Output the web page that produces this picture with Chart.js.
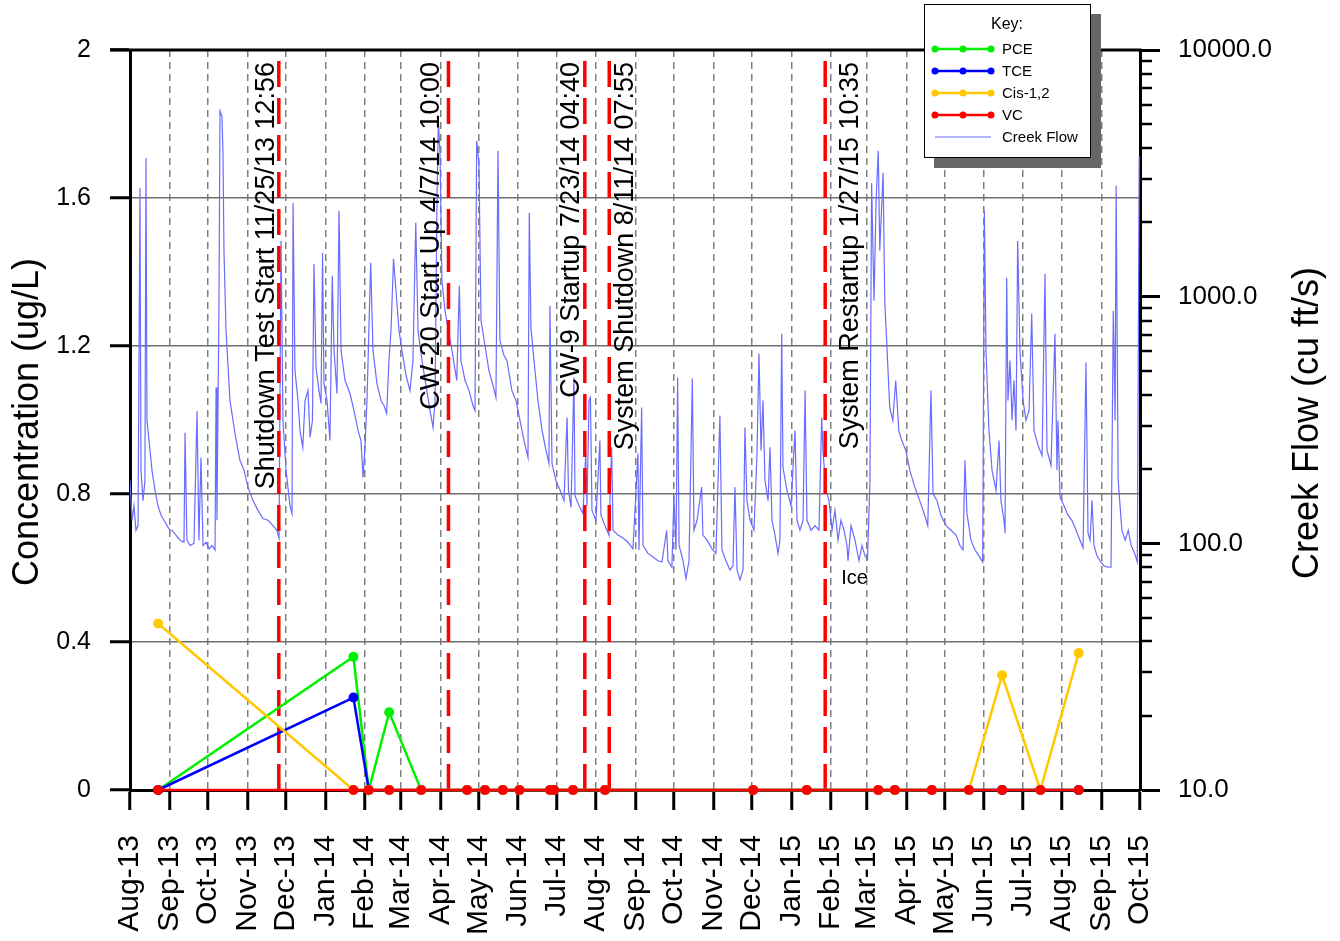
<!DOCTYPE html>
<html>
<head>
<meta charset="utf-8">
<title>Concentration and Creek Flow</title>
<script src="https://cdn.jsdelivr.net/npm/chart.js@4.4.1/dist/chart.umd.min.js"></script>
<style>
  html, body { margin: 0; padding: 0; background: #fff; }
  #wrap { width: 1340px; height: 941px; }
</style>
</head>
<body>
<div id="wrap"><canvas id="flowChart" width="1340" height="941"></canvas></div>
<script>
const FONT = "'Liberation Sans', Arial, Helvetica, sans-serif";

// x axis: one tick per month, Aug-13 .. Oct-15
const monthLabels = ['Aug-13', 'Sep-13', 'Oct-13', 'Nov-13', 'Dec-13', 'Jan-14', 'Feb-14', 'Mar-14', 'Apr-14',
    'May-14', 'Jun-14', 'Jul-14', 'Aug-14', 'Sep-14', 'Oct-14', 'Nov-14', 'Dec-14', 'Jan-15', 'Feb-15',
    'Mar-15', 'Apr-15', 'May-15', 'Jun-15', 'Jul-15', 'Aug-15', 'Sep-15', 'Oct-15'];

const concTicks = [0, 0.4, 0.8, 1.2, 1.6, 2];
const concTickLabels = ['0', '0.4', '0.8', '1.2', '1.6', '2'];
const flowTicks = [10, 100, 1000, 10000];
const flowTickLabels = ['10.0', '100.0', '1000.0', '10000.0'];

// sampling events (ug/L)
const sampleDates = ['2013-08-23', '2014-01-23', '2014-02-04', '2014-02-20', '2014-03-17', '2014-04-22',
    '2014-05-06', '2014-05-20', '2014-06-02', '2014-06-26', '2014-06-29', '2014-07-14', '2014-08-08',
    '2014-12-02', '2015-01-13', '2015-03-10', '2015-03-23', '2015-04-21', '2015-05-20', '2015-06-15',
    '2015-07-15', '2015-08-14'];
const pce = [0, 0.36, 0, 0.21, 0, 0, 0, 0, 0, 0, 0, 0, 0, 0, 0, 0, 0, 0, 0, 0, 0, 0];
const tce = [0, 0.25, 0, 0, 0, 0, 0, 0, 0, 0, 0, 0, 0, 0, 0, 0, 0, 0, 0, 0, 0, 0];
const cis12 = [0.45, 0, 0, 0, 0, 0, 0, 0, 0, 0, 0, 0, 0, 0, 0, 0, 0, 0, 0, 0.31, 0, 0.37];
const vc = [0, 0, 0, 0, 0, 0, 0, 0, 0, 0, 0, 0, 0, 0, 0, 0, 0, 0, 0, 0, 0, 0];

// system events
const eventDates = ['2013-11-25 12:56', '2014-04-07 10:00', '2014-07-23 04:40', '2014-08-11 07:55', '2015-01-27 10:35'];
const eventLabels = ['Shutdown Test Start 11/25/13 12:56', 'CW-20 Start Up 4/7/14 10:00', 'CW-9 Startup 7/23/14 04:40',
    'System Shutdown 8/11/14 07:55', 'System Restartup 1/27/15 10:35'];

// creek flow, days since 8/1/13 and cu ft/s
const flowDay = [0, 1.6, 3.1, 4.7, 6.3, 7.8, 8.6, 10.2, 11.7, 12.5, 13.3, 14.9, 17.2, 19.6, 21.9, 24.3, 26.6, 29, 31.3,
    32.9, 36, 39.2, 42.3, 43.1, 44.6, 47, 50.1, 52.5, 54, 55.6, 57.2, 59.5, 61.9, 64.2, 66.6, 67.4, 68.1, 69.7, 70.5,
    72, 72.8, 73.6, 75.2, 78.3, 82.2, 86.1, 89.3, 92.4, 96.3, 100.2, 104.1, 108.1, 112, 115.1, 116.7, 118.3, 119.8,
    122.2, 125.3, 126.9, 127.7, 129.2, 131.6, 133.1, 135.3, 137.1, 139.4, 141, 142.9, 144.1, 145.7, 148, 149.6, 150.8,
    151.9, 154.3, 156.6, 158.4, 159.8, 162.1, 163.7, 165.3, 168.4, 172.3, 175.4, 178.6, 180.9, 182.5, 184.1, 185.6,
    188.5, 190.3, 193.4, 196.6, 198.9, 201, 202.8, 204.4, 206.4, 208.3, 210.7, 213, 216.2, 219.3, 221.6, 223.8, 225.6,
    228.7, 231.8, 235, 237.3, 238.9, 240.4, 241.5, 242.8, 244.3, 246.7, 249, 252.2, 255.9, 257.9, 259.2, 262.4, 265.5,
    268.6, 270.2, 271.5, 273.3, 274.9, 278, 281.1, 284.3, 286.6, 288.2, 289.7, 292.9, 295.2, 299.1, 302.3, 305.4, 308.6,
    311.7, 312.7, 314, 316.4, 319.5, 322.7, 325.8, 328.1, 328.9, 330.5, 333.6, 336.8, 339.9, 342.3, 343.4, 345.4, 347.7,
    348.5, 351.7, 354.8, 356.9, 357.9, 359.5, 360.6, 361.8, 364.9, 368, 368.8, 372, 375.1, 377.2, 378.3, 382.2, 386.1,
    390, 393.9, 397.8, 398.6, 400.7, 401.8, 405.7, 409.6, 413.5, 416.6, 420.3, 421.3, 424.4, 426, 427.6, 428.9, 430,
    433.1, 435.4, 437.8, 440.4, 441.7, 444.1, 447.7, 448.7, 451.9, 455.8, 458.9, 462, 463.6, 466.7, 469.9, 472.2, 473.8,
    475.4, 477.7, 480.1, 481.6, 483.2, 485.6, 488.7, 491, 492.6, 494.2, 495.7, 497.3, 499.7, 501.2, 502.8, 505.1, 507.5,
    509, 510.4, 511.4, 514.5, 517.7, 520.8, 522.4, 524.7, 527.1, 528.7, 530.2, 533.4, 536.5, 539.6, 541.7, 542.7, 545.1,
    547.4, 549.8, 552.1, 554.5, 556.8, 559.2, 561.5, 562.3, 564.7, 567.8, 570.9, 573.3, 575.6, 577.6, 579.5, 580.8,
    582.7, 584.3, 586, 587.2, 589.8, 591.1, 592.7, 595, 597.4, 599.7, 602.1, 604.4, 607.6, 610.7, 614.6, 618.5, 622.4,
    624.8, 627.3, 628.9, 632, 635.1, 639.1, 643, 646.9, 650, 652.4, 653.9, 655.5, 658.6, 661.8, 664.9, 667.8, 669.1,
    670.4, 672.7, 675.1, 678.2, 680.6, 682.1, 684.5, 685.3, 686.6, 687.6, 689.2, 690.8, 692.3, 693.9, 695.2, 697, 699.4,
    701.7, 704.1, 706.2, 708, 711.2, 714.3, 716.6, 718.2, 721.3, 724.4, 726, 726.8, 728.4, 731.5, 734.6, 737.7, 740.9,
    744, 746.4, 748.7, 750.3, 751.9, 753.4, 755, 757.3, 759.7, 762.8, 766, 768.3, 770.1, 771.5, 772.3, 773.9, 776.8,
    779.4, 781.8, 784.1, 786.5, 788.9, 790.4];
const flowCfs = [180, 124, 142, 113, 118, 2760, 198, 149, 180, 3650, 315, 261, 198, 164, 142, 130, 124, 118, 113,
    113, 108, 103, 101, 281, 103, 98, 100, 343, 103, 223, 98, 101, 95, 98, 94, 428, 124, 963, 5660,
    5400, 3900, 1535, 728, 379, 279, 217, 198, 169, 149, 136, 126, 124, 118, 113, 105, 1685, 315,
    198, 142, 132, 2400, 501, 379, 287, 245, 379, 416, 269, 315, 1360, 516, 416, 369, 1507,
    444, 379, 261, 1216, 604, 405, 2229, 604, 457, 405, 345, 287, 261, 185, 249, 379,
    1373, 604, 444, 379, 362, 336, 551, 728, 1425, 1057, 728, 604, 479, 416, 551, 1993, 728,
    551, 437, 345, 295, 379, 2447, 5160, 3790, 1161, 877, 749, 604, 457, 1108, 551, 457, 416,
    362, 345, 4281, 3452, 799, 634, 501, 437, 390, 3900, 663, 577, 551, 416, 379, 315, 261,
    223, 2188, 749, 551, 379, 287, 238, 211, 919, 211, 180, 164, 149, 324, 164, 140, 470,
    156, 142, 132, 231, 142, 379, 390, 136, 124, 261, 130, 118, 108, 245, 113, 108, 105,
    101, 95, 231, 94, 355, 98, 91, 88, 85, 84, 113, 85, 80, 156, 94, 470, 98,
    85, 72, 85, 466, 113, 124, 169, 108, 103, 95, 91, 330, 94, 85, 78, 81, 169,
    78, 71, 78, 295, 149, 124, 113, 227, 588, 238, 379, 180, 149, 245, 124, 108, 91,
    103, 708, 203, 164, 142, 287, 124, 113, 124, 416, 124, 113, 118, 113, 324, 238, 164,
    149, 113, 136, 103, 124, 113, 98, 85, 118, 103, 85, 98, 89, 86, 180, 2890,
    963, 2447, 3900, 1535, 3180, 963, 645, 355, 315, 457, 287, 261, 238, 198, 169, 149, 130,
    118, 416, 159, 149, 130, 118, 113, 108, 98, 94, 217, 132, 103, 94, 89, 84, 2229,
    604, 287, 198, 164, 261, 149, 124, 110, 1194, 379, 551, 315, 457, 287, 1685, 604, 379,
    315, 345, 854, 287, 249, 227, 1239, 238, 207, 708, 198, 315, 154, 142, 130, 124, 113,
    103, 96, 541, 110, 103, 149, 98, 89, 85, 81, 80, 80, 877, 315, 2814, 180, 113,
    103, 113, 98, 92, 84, 3720];

const iceNote = {date: '2015-02-09', flow: 72, text: 'Ice'};

const PCE_COLOR = '#00f000';
const TCE_COLOR = '#0000ff';
const CIS_COLOR = '#ffc800';
const VC_COLOR = '#ff0000';
const FLOW_COLOR = '#6b6bff';
const EVENT_COLOR = '#ff0000';

// where each event label sits relative to its line (px)
const eventLabelShift = [-4.5, -9, -5.5, 23.5, 32.5];

const T0 = Date.UTC(2013, 7, 1);

function dayOf(s) {
    let parts = s.split(' ');
    let [y, m, d] = parts[0].split('-').map(Number);
    let [hh, mm] = (parts[1] || '00:00').split(':').map(Number);
    return (Date.UTC(y, m - 1, d, hh, mm) - T0) / 86400000;
}

const monthDays = monthLabels.map((_, i) => (Date.UTC(2013, 7 + i, 1) - T0) / 86400000);

function concSeries(label, values, color, order) {
    return {
        label: label,
        order: order,
        yAxisID: 'y',
        data: sampleDates.map((s, i) => ({x: dayOf(s), y: values[i]})),
        borderColor: color,
        backgroundColor: color,
        borderWidth: 2.5,
        pointRadius: 5,
        pointBorderWidth: 0,
        pointHoverRadius: 5,
        clip: false
    };
}

let eventSets = eventDates.map(s => ({
    label: 'event',
    order: 5,
    yAxisID: 'y',
    data: [{x: dayOf(s), y: 0}, {x: dayOf(s), y: 2}],
    borderColor: EVENT_COLOR,
    borderWidth: 3.5,
    borderDash: [26, 11],
    pointRadius: 0
}));

let flowSet = {
    label: 'Creek Flow',
    order: 10,
    yAxisID: 'y2',
    data: flowDay.map((d, i) => ({x: d, y: flowCfs[i]})),
    borderColor: FLOW_COLOR,
    borderWidth: 1.2,
    pointRadius: 0
};

const legendItems = [
    {label: 'PCE', color: PCE_COLOR, dots: true},
    {label: 'TCE', color: TCE_COLOR, dots: true},
    {label: 'Cis-1,2', color: CIS_COLOR, dots: true},
    {label: 'VC', color: VC_COLOR, dots: true},
    {label: 'Creek Flow', color: FLOW_COLOR, dots: false}
];

const decorations = {
    id: 'decorations',
    afterDraw(chart) {
        const ctx = chart.ctx;
        const a = chart.chartArea;
        const x = chart.scales.x;
        const y2 = chart.scales.y2;
        ctx.save();

        // top frame
        ctx.strokeStyle = '#000';
        ctx.lineWidth = 3;
        ctx.beginPath();
        ctx.moveTo(a.left - 20, a.top);
        ctx.lineTo(a.right + 1.5, a.top);
        ctx.stroke();

        // minor ticks on the flow axis
        ctx.lineWidth = 2.5;
        for (let dec = 10; dec < 10000; dec *= 10) {
            for (let k = 2; k < 10; k++) {
                let py = Math.round(y2.getPixelForValue(k * dec));
                ctx.beginPath();
                ctx.moveTo(a.right, py);
                ctx.lineTo(a.right + 12, py);
                ctx.stroke();
            }
        }

        // event labels
        ctx.fillStyle = '#000';
        ctx.font = '27px ' + FONT;
        ctx.textAlign = 'right';
        ctx.textBaseline = 'alphabetic';
        eventDates.forEach((s, i) => {
            ctx.save();
            ctx.translate(x.getPixelForValue(dayOf(s)) + eventLabelShift[i], a.top + 12);
            ctx.rotate(-Math.PI / 2);
            ctx.fillText(eventLabels[i], 0, 0);
            ctx.restore();
        });

        // ice note
        ctx.font = '20px ' + FONT;
        ctx.textAlign = 'left';
        ctx.textBaseline = 'middle';
        ctx.fillText(iceNote.text, x.getPixelForValue(dayOf(iceNote.date)), y2.getPixelForValue(iceNote.flow));

        // axis titles
        ctx.font = '36px ' + FONT;
        ctx.textAlign = 'center';
        ctx.save();
        ctx.translate(28, (a.top + a.bottom) / 2 + 2);
        ctx.rotate(-Math.PI / 2);
        ctx.fillText('Concentration (ug/L)', 0, 0);
        ctx.restore();
        ctx.save();
        ctx.translate(1308, (a.top + a.bottom) / 2 + 3);
        ctx.rotate(-Math.PI / 2);
        ctx.fillText('Creek Flow (cu ft/s)', 0, 0);
        ctx.restore();

        // key
        const bx = 924, by = 4, bw = 166, bh = 153;
        ctx.fillStyle = '#666';
        ctx.fillRect(bx + 10, by + 10, bw + 1, bh + 1);
        ctx.fillStyle = '#fff';
        ctx.fillRect(bx, by, bw, bh);
        ctx.strokeStyle = '#000';
        ctx.lineWidth = 1;
        ctx.strokeRect(bx + 0.5, by + 0.5, bw, bh);
        ctx.fillStyle = '#000';
        ctx.font = '16px ' + FONT;
        ctx.textAlign = 'center';
        ctx.fillText('Key:', 1007, 25);
        ctx.font = '15px ' + FONT;
        ctx.textAlign = 'left';
        legendItems.forEach((item, i) => {
            let ly = 49 + i * 22;
            ctx.strokeStyle = item.color;
            ctx.lineWidth = item.dots ? 2.5 : 1;
            ctx.beginPath();
            ctx.moveTo(935, ly);
            ctx.lineTo(991, ly);
            ctx.stroke();
            if (item.dots) {
                ctx.fillStyle = item.color;
                [935, 963, 991].forEach(px => {
                    ctx.beginPath();
                    ctx.arc(px, ly, 3.5, 0, Math.PI * 2);
                    ctx.fill();
                });
            }
            ctx.fillStyle = '#000';
            ctx.fillText(item.label, 1002, ly + 1);
        });

        ctx.restore();
    }
};

let ctx = document.getElementById('flowChart');

let chart = new Chart(ctx, {
    type: 'line',
    data: {
        datasets: [
            concSeries('VC', vc, VC_COLOR, 1),
            concSeries('Cis-1,2', cis12, CIS_COLOR, 2),
            concSeries('TCE', tce, TCE_COLOR, 3),
            concSeries('PCE', pce, PCE_COLOR, 4),
            ...eventSets,
            flowSet
        ]
    },
    options: {
        responsive: false,
        animation: false,
        devicePixelRatio: 1,
        layout: {padding: {top: 50, left: 0, right: 0, bottom: 0}},
        elements: {line: {tension: 0}},
        plugins: {
            legend: {display: false},
            tooltip: {enabled: false}
        },
        scales: {
            x: {
                type: 'linear',
                position: 'bottom',
                min: 0,
                max: monthDays[monthDays.length - 1],
                afterBuildTicks: scale => {
                    scale.ticks = monthDays.map(v => ({value: v}));
                },
                afterFit: scale => {
                    scale.height = 151;
                },
                ticks: {
                    autoSkip: false,
                    minRotation: 90,
                    maxRotation: 90,
                    padding: 25,
                    color: '#000',
                    font: {family: FONT, size: 30},
                    callback: value => monthLabels[monthDays.indexOf(value)]
                },
                grid: {
                    color: '#808080',
                    lineWidth: 1.5,
                    tickColor: '#000',
                    tickWidth: 3,
                    tickLength: 20
                },
                border: {color: '#000', width: 3, dash: [7, 5]}
            },
            y: {
                type: 'linear',
                position: 'left',
                min: 0,
                max: 2,
                afterBuildTicks: scale => {
                    scale.ticks = concTicks.map(v => ({value: v}));
                },
                afterFit: scale => {
                    scale.width = 130;
                },
                ticks: {
                    autoSkip: false,
                    padding: 19,
                    color: '#000',
                    font: {family: FONT, size: 25},
                    callback: value => concTickLabels[concTicks.indexOf(value)]
                },
                grid: {
                    color: c => (c.tick && (c.tick.value === 0 || c.tick.value === 2)) ? 'rgba(0,0,0,0)' : '#6e6e6e',
                    lineWidth: 1.5,
                    tickColor: '#000',
                    tickWidth: 3,
                    tickLength: 20
                },
                border: {color: '#000', width: 3}
            },
            y2: {
                type: 'logarithmic',
                position: 'right',
                min: 10,
                max: 10000,
                afterBuildTicks: scale => {
                    let t = [];
                    for (let dec = 10; dec < 10000; dec *= 10) {
                        for (let k = 1; k < 10; k++) t.push({value: k * dec});
                    }
                    t.push({value: 10000});
                    scale.ticks = t;
                },
                afterFit: scale => {
                    scale.width = 200;
                },
                ticks: {
                    autoSkip: false,
                    padding: 18,
                    color: '#000',
                    font: {family: FONT, size: 26},
                    callback: value => {
                        let i = flowTicks.indexOf(value);
                        return i >= 0 ? flowTickLabels[i] : '';
                    }
                },
                grid: {
                    drawOnChartArea: false,
                    tickColor: c => (c.tick && flowTicks.includes(c.tick.value)) ? '#000' : 'rgba(0,0,0,0)',
                    tickWidth: 3,
                    tickLength: 20
                },
                border: {color: '#000', width: 3}
            }
        }
    },
    plugins: [decorations]
});
</script>
</body>
</html>
